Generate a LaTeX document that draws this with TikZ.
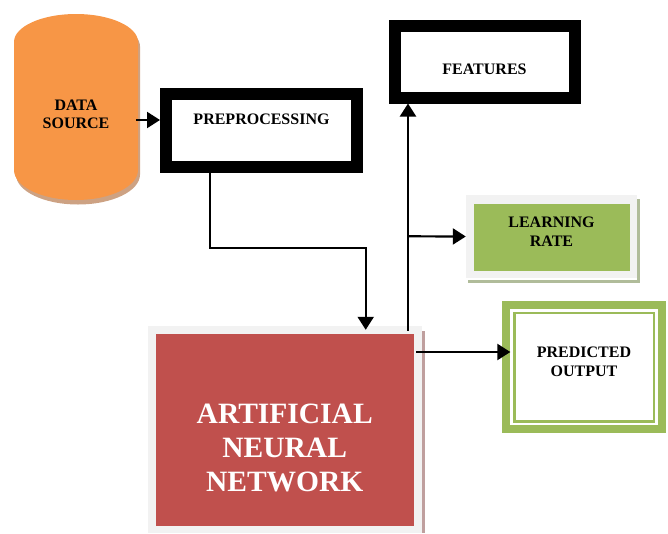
\documentclass[tikz,border=0pt]{standalone}
\usepackage{fontspec}
\setmainfont{Liberation Serif}
\usetikzlibrary{arrows.meta}
\definecolor{srcorange}{HTML}{F79646}
\definecolor{srcshade}{HTML}{CDA283}
\definecolor{leafgreen}{HTML}{9BBB59}
\definecolor{greenshade}{HTML}{B0BC9A}
\definecolor{annred}{HTML}{C0504D}
\definecolor{redshade}{HTML}{BF9F9E}
\definecolor{palerim}{HTML}{F2F2F2}
\tikzset{
  lbl/.style={font=\bfseries\fontsize{16}{18.3}\selectfont,align=center,text=black,inner sep=0pt},
  heavybox/.style={lbl,draw=black,fill=white,line width=12pt},
  link/.style={draw=black,line width=2.2pt},
  flow/.style={link,-{Triangle[length=13pt,width=16pt]}},
}
\newcommand{\srcoutline}{(14,42) arc[start angle=180,end angle=0,x radius=62pt,y radius=28pt] -- (138,170) arc[start angle=0,end angle=-180,x radius=62pt,y radius=30pt] -- cycle}
\begin{document}
\begin{tikzpicture}[x=1pt,y=-1pt]
\useasboundingbox (0,0) rectangle (668,533);
% data source
\fill[srcshade,shift={(2,4.5)}] \srcoutline;
\fill[srcorange] \srcoutline;
\node[lbl,minimum width=124pt,minimum height=186pt] (src) at (76,107) {\mbox{}\\[6.7pt]DATA\\SOURCE};
% heavy boxes
\node[heavybox,minimum width=191pt,minimum height=73pt] (prep) at (261.5,130.5) {PREPROCESSING\\[5pt]\mbox{}};
\node[heavybox,minimum width=180pt,minimum height=72pt] (feat) at (484.5,61.5) {\mbox{}\\[8.7pt]FEATURES};
% learning rate
\fill[greenshade] (468,199) rectangle (640,283);
\fill[white] (468,197) rectangle (637,280);
\node[lbl,fill=palerim,minimum width=171pt,minimum height=83pt] (lrrim) at (551.5,236.5) {};
\node[lbl,fill=leafgreen,minimum width=156pt,minimum height=67pt] (lr) at (551.5,237) {LEARNING\\RATE\\[-7.5pt]\mbox{}};
% ANN
\fill[redshade] (421.5,331) rectangle (424.5,533);
\fill[palerim] (148,326) rectangle (421.5,533);
\node[fill=annred,text=white,font=\bfseries\fontsize{29.5}{33.8}\selectfont,align=center,inner sep=0pt,minimum width=258pt,minimum height=192pt] (ann) at (284.7,430) {\mbox{}\\[21.2pt]ARTIFICIAL\\NEURAL\\NETWORK};
% predicted output
\node[lbl,draw=leafgreen,fill=white,line width=8pt,minimum width=155.7pt,minimum height=124.3pt] (predouter) at (584.2,367.2) {};
\node[lbl,draw=leafgreen,fill=white,line width=2.7pt,minimum width=139.7pt,minimum height=108.4pt] (pred) at (584,367.2) {PREDICTED\\OUTPUT\\[-7pt]\mbox{}};
% connectors
\draw[flow] ([xshift=-2pt,yshift=-13pt]src.east) -- ([yshift=10.5pt]prep.west);
\draw[flow] ([xshift=-51.5pt]prep.south) -- ++(0,75) -| ([xshift=81pt,yshift=4pt]ann.north);
\draw[flow] ([xshift=123.3pt,yshift=3pt]ann.north) -- ([xshift=-76.5pt]feat.south);
\draw[flow] ([xshift=123.3pt,yshift=97.5pt]ann.north) -- (lrrim.west);
\draw[flow] ([xshift=2.5pt,yshift=78pt]ann.east) -- ([xshift=8pt,yshift=15.2pt]predouter.west);
\end{tikzpicture}
\end{document}
